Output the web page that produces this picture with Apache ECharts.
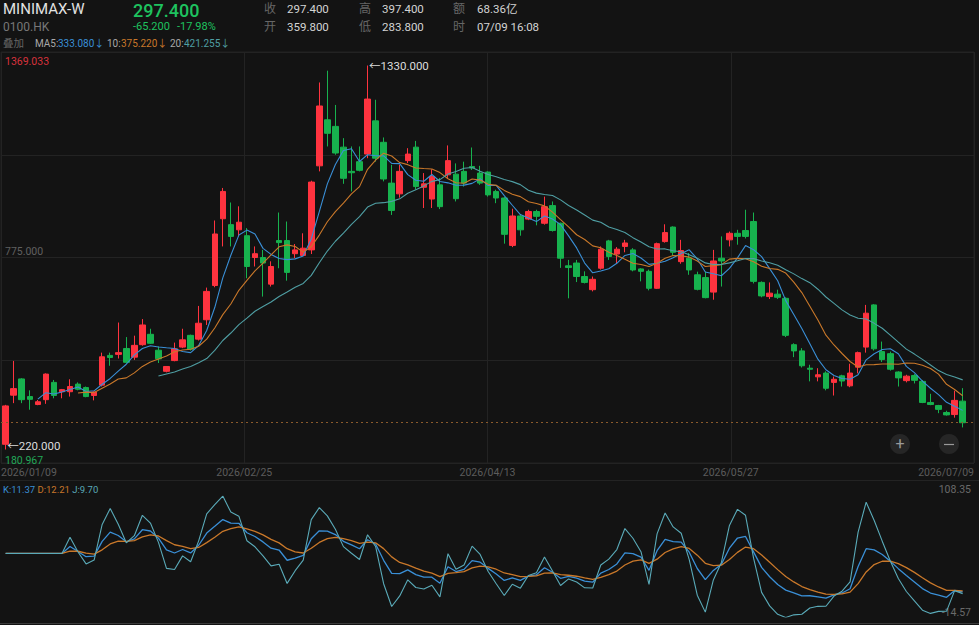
<!DOCTYPE html>
<html>
<head>
<meta charset="utf-8">
<title>MINIMAX-W 0100.HK</title>
<script src="https://cdn.jsdelivr.net/npm/echarts@6/dist/echarts.min.js"></script>
<style>
html, body { margin: 0; padding: 0; background: #131313; }
#chart { width: 979px; height: 625px; }
</style>
</head>
<body>
<div id="chart"></div>
<script>
// x-axis date labels (quarter positions of the range)
const dateLabels = ['2026/01/09', '2026/02/25', '2026/04/13', '2026/05/27', '2026/07/09'];

// daily candles
const opens = [235, 377, 424, 373, 350, 364, 414, 387, 387, 409, 399, 376, 406, 492, 495, 512, 487, 523, 553, 507,
  446, 477, 516, 550, 539, 595, 694, 887, 870, 855, 838, 775, 775, 698, 824, 824, 786, 781, 797, 1040,
  1173, 1154, 1094, 1024, 1052, 1074, 1170, 1108, 990, 959, 1055, 1094, 978, 944, 985, 1014, 1016, 1024, 1038, 1019,
  1022, 966, 947, 810, 895, 886, 908, 874, 925, 874, 751, 759, 720, 682, 744, 823, 785, 807, 797, 742,
  735, 686, 821, 863, 763, 773, 725, 717, 675, 773, 826, 845, 853, 879, 703, 662, 669, 657, 523, 505,
  455, 430, 441, 414, 433, 404, 458, 516, 638, 503, 497, 444, 419, 434, 417, 356, 347, 327, 321, 359.8];
const closes = [346, 396, 364, 365, 358, 438, 376, 393, 402, 394, 373, 386, 488, 486, 500, 472, 521, 580, 527, 482,
  460, 511, 537, 510, 585, 677, 843, 966, 836, 877, 749, 786, 759, 749, 818, 732, 797, 802, 993, 1213,
  1134, 1077, 1004, 1020, 1027, 1233, 1062, 1002, 911, 1024, 1074, 980, 988, 1009, 922, 1055, 945, 990, 1034, 990,
  956, 947, 842, 895, 855, 908, 894, 922, 853, 773, 746, 720, 703, 712, 799, 778, 799, 817, 739, 735,
  686, 815, 847, 790, 795, 739, 683, 659, 765, 765, 845, 836, 836, 706, 664, 672, 660, 550, 505, 462,
  452, 436, 397, 423, 418, 441, 500, 614, 511, 480, 452, 427, 432, 420, 356, 350, 336, 320, 362, 297.4];
const lows = [220, 354, 354, 335, 348, 352, 368, 368, 373, 391, 371, 362, 402, 462, 483, 468, 479, 520, 525, 470,
  443, 475, 513, 506, 535, 580, 689, 807, 807, 836, 715, 749, 662, 691, 744, 708, 773, 780, 785, 1024,
  1096, 1072, 988, 966, 1024, 1062, 1052, 995, 898, 948, 1048, 971, 918, 918, 915, 1005, 937, 980, 1028, 985,
  951, 932, 815, 805, 838, 883, 868, 870, 850, 745, 657, 704, 700, 677, 740, 768, 759, 790, 735, 706,
  680, 684, 818, 780, 757, 725, 680, 657, 653, 691, 807, 812, 830, 700, 660, 655, 655, 545, 487, 457,
  417, 417, 391, 376, 402, 400, 440, 500, 506, 473, 448, 402, 414, 411, 354, 348, 325, 318, 312, 283.8];
const highs = [349, 476, 426, 391, 363, 440, 421, 395, 423, 414, 402, 388, 500, 500, 587, 545, 549, 597, 569, 518,
  461, 529, 569, 552, 635, 688, 882, 976, 934, 923, 860, 807, 797, 764, 905, 879, 814, 845, 997, 1281,
  1315, 1216, 1120, 1096, 1096, 1330, 1231, 1122, 1043, 1043, 1091, 1112, 1019, 1030, 1005, 1099, 1047, 1052, 1093, 1040,
  1024, 971, 950, 916, 898, 913, 913, 951, 937, 876, 768, 768, 735, 720, 807, 826, 805, 826, 802, 744,
  740, 818, 871, 865, 826, 788, 734, 734, 797, 836, 850, 855, 913, 905, 706, 703, 682, 660, 527, 513,
  465, 455, 446, 431, 436, 468, 503, 638, 640, 532, 503, 446, 436, 438, 421, 381, 349, 332, 390, 397.4];

// axis labels shown on the picture
const priceAxis = [180.967, 775.000, 1369.033];
const kdjAxis = [-14.57, 108.35];
const maLegend = ['333.080', '375.220', '421.255'];
const kdjLegend = ['11.37', '12.21', '9.70'];

const RED = '#ff333f';
const GREEN = '#17b24e';
const C_MA5 = '#3a8fd6';
const C_MA10 = '#c9782a';
const C_MA20 = '#4f9ea3';
const C_J = '#5aaab8';
const FONT = 'Roboto, "Noto Sans CJK SC", "DejaVu Sans", sans-serif';

// moving average of closes (same definition the app uses)
function calcMA(n) {
  const out = [];
  for (let i = n - 1; i < closes.length; i++) {
    let s = 0;
    for (let k = i - n + 1; k <= i; k++) s += closes[k];
    out.push([i, s / n]);
  }
  return out;
}

// KDJ(9,3,3), flat 50 before the first full window
function calcKDJ(n) {
  const K = [], D = [], J = [];
  let pk = 50, pd = 50;
  for (let i = 0; i < closes.length; i++) {
    if (i < n - 1) { K.push([i, 50]); D.push([i, 50]); J.push([i, 50]); continue; }
    const hh = Math.max(...highs.slice(i - n + 1, i + 1));
    const ll = Math.min(...lows.slice(i - n + 1, i + 1));
    const rsv = hh === ll ? 50 : (closes[i] - ll) / (hh - ll) * 100;
    pk = pk * 2 / 3 + rsv / 3;
    pd = pd * 2 / 3 + pk / 3;
    K.push([i, pk]); D.push([i, pd]); J.push([i, 3 * pk - 2 * pd]);
  }
  return { K, D, J };
}

const candles = opens.map((o, i) => [i, o, closes[i], lows[i], highs[i]]);
const kdj = calcKDJ(9);

let iMax = 0, iMin = 0;
highs.forEach((h, i) => { if (h > highs[iMax]) iMax = i; });
lows.forEach((l, i) => { if (l < lows[iMin]) iMin = i; });

// x range: a little margin on both sides of the first/last candle
const xMin = -0.58, xMax = 120.41;
const xInterval = (xMax - xMin) / 4;

const chart = echarts.init(document.getElementById('chart'), null, { renderer: 'svg' });

function txt(text, x, y, size, color, extra) {
  return {
    type: 'text', x: x, y: y, silent: true,
    style: Object.assign({ text: text, fill: color, fontSize: size, fontFamily: FONT, verticalAlign: 'middle', align: 'left' }, extra || {})
  };
}

const markLabel = { show: true, position: 'right', distance: 1, color: '#dcdcdc', fontSize: 11.5, fontFamily: FONT,
  formatter: p => '\u2190' + p.value.toFixed(3) };

const option = {
  backgroundColor: '#131313',
  animation: false,
  grid: [
    { left: 1, right: 5, top: 52, height: 411, show: true, borderColor: '#232323', borderWidth: 1, backgroundColor: 'transparent', outerBoundsMode: 'none' },
    { left: 1, right: 5, top: 496, height: 121, outerBoundsMode: 'none' }
  ],
  xAxis: [{
    type: 'value', gridIndex: 0, min: xMin, max: xMax, interval: xInterval,
    axisLine: { show: false }, axisTick: { show: false },
    splitLine: { show: true, lineStyle: { color: '#232323', width: 1 } },
    axisLabel: {
      show: true, color: '#5c5c5c', fontSize: 10.5, fontFamily: FONT, margin: 4,
      showMinLabel: true, showMaxLabel: true,
      alignMinLabel: 'left', alignMaxLabel: 'right',
      formatter: (v, idx) => dateLabels[idx] || ''
    }
  }, {
    type: 'value', gridIndex: 1, min: xMin, max: xMax,
    axisLine: { show: false }, axisTick: { show: false }, splitLine: { show: false }, axisLabel: { show: false }
  }],
  yAxis: [{
    type: 'value', gridIndex: 0, min: priceAxis[0], max: priceAxis[2],
    interval: (priceAxis[2] - priceAxis[0]) / 4,
    position: 'left',
    axisLine: { show: false }, axisTick: { show: false },
    splitLine: { show: true, lineStyle: { color: '#232323', width: 1 } },
    axisLabel: {
      inside: true, margin: 4, fontSize: 10.5, fontFamily: FONT,
      showMinLabel: true, showMaxLabel: true,
      formatter: function (v) {
        if (Math.abs(v - priceAxis[0]) < 0.5) return '{g|' + priceAxis[0].toFixed(3) + '}';
        if (Math.abs(v - priceAxis[1]) < 0.5) return '{m|' + priceAxis[1].toFixed(3) + '}';
        if (Math.abs(v - priceAxis[2]) < 0.5) return '{r|' + priceAxis[2].toFixed(3) + '}';
        return '';
      },
      rich: {
        g: { color: '#22a858', fontSize: 10.5, fontFamily: FONT, padding: [0, 0, 6, 0] },
        m: { color: '#606060', fontSize: 10.5, fontFamily: FONT, padding: [0, 0, 13, 0] },
        r: { color: '#d8323c', fontSize: 10.5, fontFamily: FONT, padding: [18, 0, 0, 0] }
      }
    }
  }, {
    type: 'value', gridIndex: 1, min: kdjAxis[0], max: kdjAxis[1],
    interval: kdjAxis[1] - kdjAxis[0],
    position: 'right',
    axisLine: { show: false }, axisTick: { show: false }, splitLine: { show: false },
    axisLabel: {
      inside: true, margin: 3, fontSize: 10.5, fontFamily: FONT,
      showMinLabel: true, showMaxLabel: true,
      formatter: function (v) {
        if (Math.abs(v - kdjAxis[0]) < 0.01) return '{b|' + kdjAxis[0].toFixed(2) + '}';
        if (Math.abs(v - kdjAxis[1]) < 0.01) return '{t|' + kdjAxis[1].toFixed(2) + '}';
        return '';
      },
      rich: {
        b: { color: '#6a6a6a', fontSize: 10.5, fontFamily: FONT, padding: [0, 0, 10, 0] },
        t: { color: '#6a6a6a', fontSize: 10.5, fontFamily: FONT, padding: [0, 0, 14, 0] }
      }
    }
  }],
  series: [{
    name: 'K线', type: 'candlestick', xAxisIndex: 0, yAxisIndex: 0,
    data: candles, barWidth: 6, clip: false,
    itemStyle: { color: RED, color0: GREEN, borderColor: RED, borderColor0: GREEN, borderColorDoji: GREEN, borderWidth: 1 },
    markPoint: {
      symbol: 'circle', symbolSize: 1, silent: true,
      itemStyle: { color: 'rgba(0,0,0,0)' },
      label: markLabel,
      data: [
        { coord: [iMax, highs[iMax]], value: highs[iMax] },
        { coord: [iMin, lows[iMin]], value: lows[iMin], label: Object.assign({}, markLabel, { offset: [0, -3] }) }
      ]
    },
    markLine: {
      silent: true, symbol: ['none', 'none'],
      label: { show: false },
      lineStyle: { color: '#8a5a2c', type: [2, 3], width: 1 },
      data: [{ yAxis: closes[closes.length - 1] }]
    }
  }, {
    name: 'MA5', type: 'line', xAxisIndex: 0, yAxisIndex: 0, data: calcMA(5),
    showSymbol: false, lineStyle: { color: C_MA5, width: 1.1 }, silent: true
  }, {
    name: 'MA10', type: 'line', xAxisIndex: 0, yAxisIndex: 0, data: calcMA(10),
    showSymbol: false, lineStyle: { color: C_MA10, width: 1.1 }, silent: true
  }, {
    name: 'MA20', type: 'line', xAxisIndex: 0, yAxisIndex: 0, data: calcMA(20),
    showSymbol: false, lineStyle: { color: C_MA20, width: 1.1 }, silent: true
  }, {
    name: 'K', type: 'line', xAxisIndex: 1, yAxisIndex: 1, data: kdj.K,
    showSymbol: false, lineStyle: { color: C_MA5, width: 1.3 }, silent: true
  }, {
    name: 'D', type: 'line', xAxisIndex: 1, yAxisIndex: 1, data: kdj.D,
    showSymbol: false, lineStyle: { color: C_MA10, width: 1.3 }, silent: true
  }, {
    name: 'J', type: 'line', xAxisIndex: 1, yAxisIndex: 1, data: kdj.J,
    showSymbol: false, lineStyle: { color: C_J, width: 1.1 }, silent: true
  }],
  graphic: [
    // header
    txt('MINIMAX-W', 3, 9, 15, '#e2e2e2'),
    txt('0100.HK', 3, 27, 12, '#777777'),
    txt(closes[closes.length - 1].toFixed(3), 133, 10, 18, '#1ec25f', { fontWeight: 500 }),
    txt('-65.200', 133, 26, 11, '#1ec25f'),
    txt('-17.98%', 177, 26, 11, '#1ec25f'),
    txt('收', 264, 9, 12, '#666666'), txt('297.400', 287, 9, 11.5, '#d4d4d4'),
    txt('开', 264, 27, 12, '#666666'), txt('359.800', 287, 27, 11.5, '#d4d4d4'),
    txt('高', 359, 9, 12, '#666666'), txt('397.400', 382, 9, 11.5, '#d4d4d4'),
    txt('低', 359, 27, 12, '#666666'), txt('283.800', 382, 27, 11.5, '#d4d4d4'),
    txt('额', 453, 9, 12, '#666666'), txt('68.36亿', 477, 9, 11.5, '#d4d4d4'),
    txt('时', 453, 27, 12, '#666666'), txt('07/09 16:08', 477, 27, 11.5, '#d4d4d4'),
    txt('叠加', 3, 43, 10.5, '#666666'),
    txt('MA5:', 35, 43, 10, '#a8a8a8'), txt(maLegend[0] + '\u2193', 58, 43, 10, C_MA5),
    txt('10:', 107, 43, 10, '#a8a8a8'), txt(maLegend[1] + '\u2193', 121, 43, 10, C_MA10),
    txt('20:', 170, 43, 10, '#a8a8a8'), txt(maLegend[2] + '\u2193', 184, 43, 10, C_MA20),
    // zoom buttons
    { type: 'circle', shape: { cx: 900, cy: 444, r: 10 }, style: { fill: '#262626' }, silent: true },
    txt('+', 900, 443, 16, '#9a9a9a', { align: 'center' }),
    { type: 'circle', shape: { cx: 949, cy: 444, r: 10 }, style: { fill: '#262626' }, silent: true },
    { type: 'line', shape: { x1: 944, y1: 444.5, x2: 954, y2: 444.5 }, style: { stroke: '#9a9a9a', lineWidth: 1.2 }, silent: true },
    // panel separators
    { type: 'line', shape: { x1: 0, y1: 480.5, x2: 979, y2: 480.5 }, style: { stroke: '#232323', lineWidth: 1 }, silent: true },
    { type: 'line', shape: { x1: 0, y1: 623.5, x2: 979, y2: 623.5 }, style: { stroke: '#3a3a3a', lineWidth: 1 }, silent: true },
    // KDJ legend
    {
      type: 'text', x: 3, y: 489, silent: true,
      style: {
        text: '{k|K:' + kdjLegend[0] + '} {d|D:' + kdjLegend[1] + '} {j|J:' + kdjLegend[2] + '}',
        fontSize: 9.5, fontFamily: FONT, verticalAlign: 'middle', align: 'left',
        rich: {
          k: { fill: C_MA5, fontSize: 9.5, fontFamily: FONT },
          d: { fill: C_MA10, fontSize: 9.5, fontFamily: FONT },
          j: { fill: C_J, fontSize: 9.5, fontFamily: FONT }
        }
      }
    }
  ]
};

chart.setOption(option);
</script>
</body>
</html>
